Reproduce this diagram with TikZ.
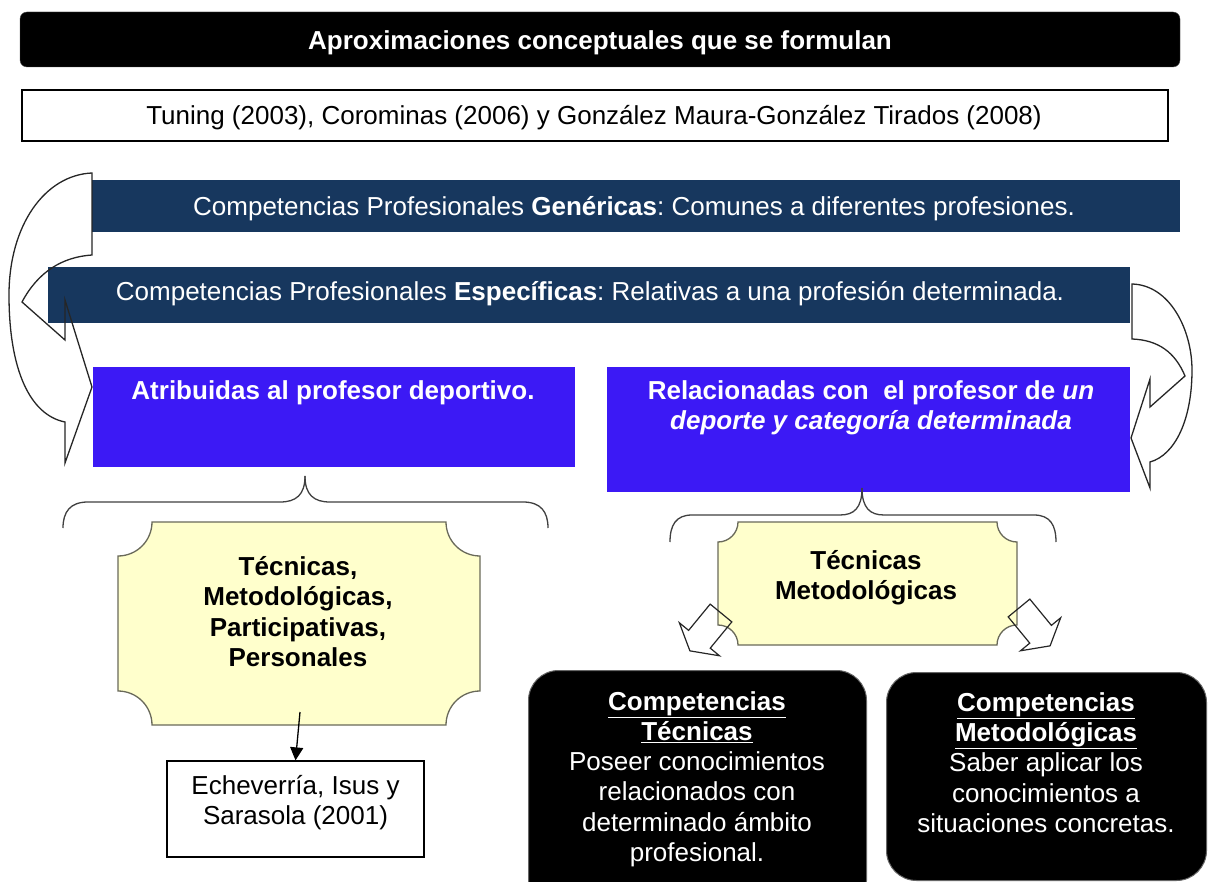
\documentclass[tikz,border=0pt]{standalone}
\usepackage{fontspec}
\setmainfont{Liberation Sans}
\usetikzlibrary{arrows.meta,calc}
\definecolor{navy}{RGB}{23,55,94}
\definecolor{vblue}{RGB}{60,25,245}
\definecolor{plaquefill}{RGB}{255,255,204}
\definecolor{plaqueline}{RGB}{105,105,90}
% multi-line text nodes are placed at the centre of their LAST line
\tikzset{
  txt/.style={font=\fontsize{26}{30.2}\selectfont, inner sep=0pt, align=center, text height=18.6pt, text depth=0pt},
  btxt/.style={txt, font=\fontsize{26}{30.2}\selectfont\bfseries},
  titlebox/.style={fill=black, draw=black!70, rounded corners=7pt, inner sep=0pt},
  plainbox/.style={fill=white, draw=black, line width=1.2pt, inner sep=0pt},
  navybox/.style={fill=navy, draw=none, inner sep=0pt},
  bluebox/.style={fill=vblue, draw=none, inner sep=0pt},
  blackbox/.style={fill=black, draw=black!60, line width=1pt, rounded corners=30pt, inner sep=0pt},
  arrline/.style={draw=black!85, line width=1.3pt, line join=miter},
  braceline/.style={draw=black!75, line width=1.3pt},
  plaque/.style={fill=plaquefill, draw=plaqueline, line width=1.3pt},
  blockarr/.pic={\draw[arrline, line width=1.2pt] (0,-14) -- (34,-14) -- (34,-26) -- (49,0) -- (34,26) -- (34,14) -- (0,14) -- cycle;}
}
\begin{document}
\frenchspacing
\begin{tikzpicture}[x=1pt,y=-1pt]
\useasboundingbox (0,0) rectangle (1208,882);
\clip (0,0) rectangle (1208,882);
\fill[white] (0,0) rectangle (1208,882);

% top boxes
\node[titlebox, minimum width=1160pt, minimum height=55pt] (title) at (600,39.5) {};
\node[btxt, text=white] (title-t) at (600,40) {Aproximaciones conceptuales que se formulan};
\node[plainbox, minimum width=1146pt, minimum height=51pt] (tuning) at (595,115.5) {};
\node[txt] (tuning-t) at (594,115) {Tuning (2003), Corominas (2006) y González Maura-González Tirados (2008)};
\node[navybox, minimum width=1088pt, minimum height=52pt] (gen) at (636,206) {};
\node[txt, text=white] (gen-t) at (634,206) {Competencias Profesionales \textbf{Genéricas}: Comunes a diferentes profesiones.};
\node[navybox, minimum width=1082pt, minimum height=56pt] (esp) at (589,295) {};
\node[txt, text=white] (esp-t) at (590,291) {Competencias Profesionales \textbf{Específicas}: Relativas a una profesión determinada.};

% blue boxes
\node[bluebox, minimum width=482pt, minimum height=100pt] (atr) at (334,417) {};
\node[btxt, text=white] (atr-t) at (333,390) {Atribuidas al profesor deportivo.};
\node[bluebox, minimum width=523pt, minimum height=125pt] (rel) at (868.5,429.5) {};
\node[btxt, text=white] (rel-t) at (871,420) {Relacionadas con~~el profesor de \textit{un}\\\textit{deporte y categoría determinada}};

% curved arrows
\draw[arrline] (92,173) .. controls (45,175) and (9,225) .. (9,295)
  .. controls (9,370) and (30,415) .. (65,422) -- (65,463) -- (92,387) -- (65,300) -- (65,340)
  -- (22,302) .. controls (38,272) and (62,257) .. (92,255) -- cycle;
\draw[arrline] (1132,284) .. controls (1170,285) and (1192,330) .. (1192,370)
  .. controls (1192,420) and (1175,455) .. (1150,462) -- (1150,488) -- (1131,438) -- (1150,379) -- (1150,407)
  -- (1185,376) .. controls (1175,352) and (1158,340) .. (1132,339) -- cycle;

% braces
\draw[braceline] (305,476) .. controls (305,495) and (296,502) .. (280,502) -- (88,502) .. controls (70,502) and (63,512) .. (63,528);
\draw[braceline] (305,476) .. controls (305,495) and (314,502) .. (330,502) -- (523,502) .. controls (541,502) and (548,512) .. (548,528);
\draw[braceline] (862,488) .. controls (862,508) and (854,515) .. (840,515) -- (692,515) .. controls (676,515) and (670,525) .. (670,542);
\draw[braceline] (862,488) .. controls (862,508) and (870,515) .. (884,515) -- (1034,515) .. controls (1050,515) and (1056,525) .. (1056,542);

% plaques
\draw[plaque] (152,522) -- (446,522) arc[start angle=180,end angle=270,radius=34pt]
  -- (480,691) arc[start angle=90,end angle=180,radius=34pt]
  -- (152,725) arc[start angle=0,end angle=90,radius=34pt]
  -- (118,556) arc[start angle=270,end angle=360,radius=34pt] -- cycle;
\node[btxt] (pl-t) at (298,657) {Técnicas,\\Metodológicas,\\Participativas,\\Personales};

\draw[plaque] (738,522) -- (997,522) arc[start angle=180,end angle=270,radius=20pt]
  -- (1017,625) arc[start angle=90,end angle=180,radius=20pt]
  -- (738,645) arc[start angle=0,end angle=90,radius=20pt]
  -- (718,542) arc[start angle=270,end angle=360,radius=20pt] -- cycle;
\node[btxt] (pr-t) at (866,590) {Técnicas\\Metodológicas};

% block arrows
\pic[rotate=230.6] at (721,613) {blockarr};
\pic[rotate=-50.6] at (1019,608) {blockarr};

% reference box
\node[plainbox, minimum width=257pt, minimum height=96pt] (ech) at (295.5,809) {};
\node[txt] (ech-t) at (295.5,815) {Echeverría, Isus y\\Sarasola (2001)};
\coordinate (c0) at (300,712);
\draw[line width=1.3pt, -{Triangle[length=13pt,width=13pt]}] (c0) -- (ech.north);

% black boxes
\node[blackbox, minimum width=338pt, minimum height=240pt, anchor=north west] (ct) at (528,670) {};
\node[txt, text=white] (ct-t) at (697,852) {\textbf{\underline{Competencias}}\\\textbf{\underline{Técnicas}}\\Poseer conocimientos\\relacionados con\\determinado ámbito\\profesional.};
\node[blackbox, minimum width=320pt, minimum height=208pt, anchor=north west] (cm) at (886,672) {};
\node[txt, text=white] (cm-t) at (1046,823) {\textbf{\underline{Competencias}}\\\textbf{\underline{Metodológicas}}\\Saber aplicar los\\conocimientos a\\situaciones concretas.};
\end{tikzpicture}
\end{document}
